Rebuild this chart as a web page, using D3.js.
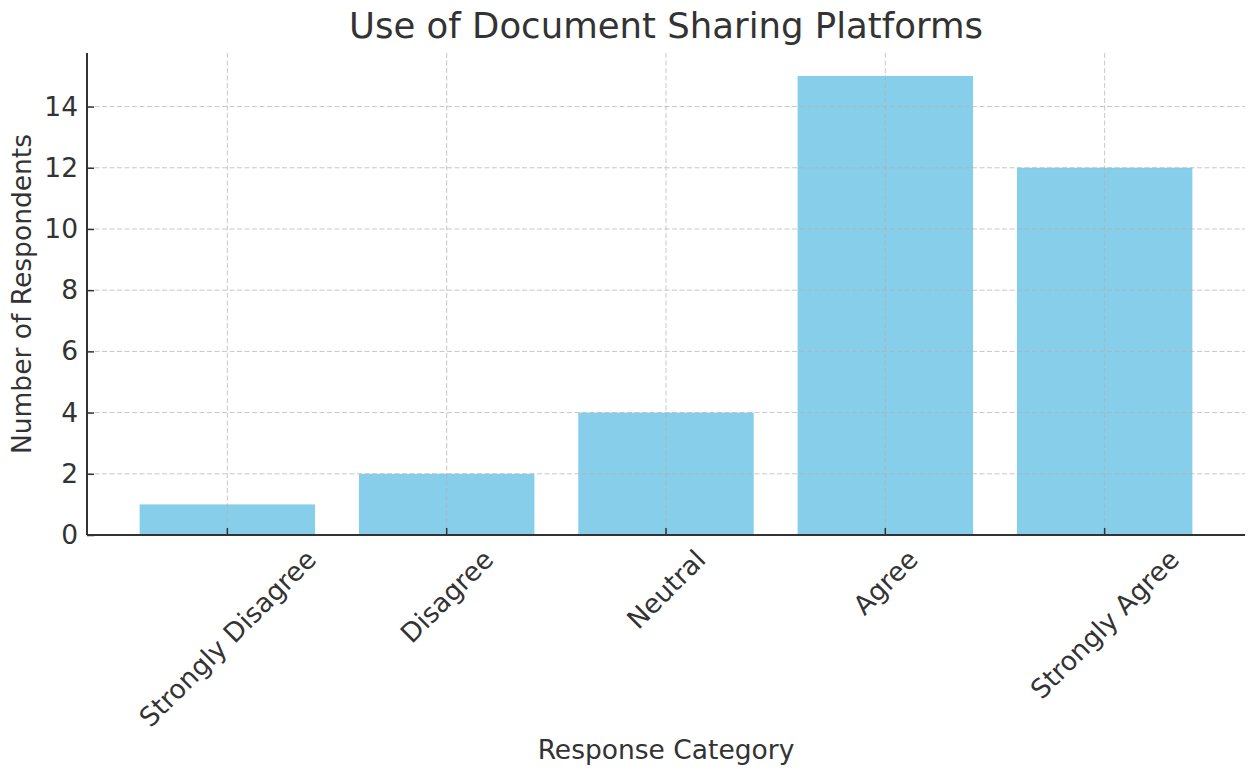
<!DOCTYPE html>
<meta charset="utf-8">
<style>
  body { margin: 0; background: #fff; }
  text { font-family: "DejaVu Sans", sans-serif; fill: #333; }
  .grid line { stroke: #b0b0b0; stroke-opacity: 0.7; stroke-dasharray: 5,2.5; stroke-width: 1px; }
</style>
<body>
<script src="https://d3js.org/d3.v7.min.js"></script>
<script>
  // chart data
  var categories = ["Strongly Disagree", "Disagree", "Neutral", "Agree", "Strongly Agree"];
  var respondents = [1, 2, 4, 15, 12];
  var yTicks = [0, 2, 4, 6, 8, 10, 12, 14];

  var width = 1248, height = 771;
  var margin = { top: 53, right: 3, bottom: 236, left: 87 };

  var svg = d3.select("body").append("svg")
    .attr("width", width)
    .attr("height", height);

  var x = d3.scaleBand()
    .domain(categories)
    .range([margin.left, width - margin.right])
    .paddingInner(0.2)
    .paddingOuter(0.24);

  var y = d3.scaleLinear()
    .domain([0, 15.75])
    .range([height - margin.bottom, margin.top]);

  // bars
  svg.selectAll(".bar")
    .data(categories)
    .enter()
    .append("rect")
    .attr("class", "bar")
    .attr("x", function (d) { return x(d); })
    .attr("width", x.bandwidth())
    .attr("y", function (d, i) { return y(respondents[i]); })
    .attr("height", function (d, i) { return y(0) - y(respondents[i]); })
    .style("fill", "#87CEEB");

  // grid on top of bars
  var grid = svg.append("g").attr("class", "grid");
  grid.selectAll(".hg")
    .data(yTicks)
    .enter()
    .append("line")
    .attr("x1", margin.left).attr("x2", width - margin.right)
    .attr("y1", function (d) { return y(d); })
    .attr("y2", function (d) { return y(d); });
  grid.selectAll(".vg")
    .data(categories)
    .enter()
    .append("line")
    .attr("x1", function (d) { return x(d) + x.bandwidth() / 2; })
    .attr("x2", function (d) { return x(d) + x.bandwidth() / 2; })
    .attr("y1", margin.top).attr("y2", y(0));

  // y axis
  var yAxis = svg.append("g")
    .attr("transform", "translate(" + margin.left + ",0)")
    .call(d3.axisLeft(y).tickValues(yTicks).tickSize(-7).tickPadding(9));
  yAxis.select(".domain").remove();
  yAxis.selectAll(".tick line").attr("stroke", "#333").attr("stroke-width", 1.5);
  yAxis.selectAll(".tick text").style("font-size", "26.5px").attr("fill", "#333")
    .attr("font-family", null);
  yAxis.append("line")
    .attr("x1", 0).attr("x2", 0)
    .attr("y1", margin.top).attr("y2", y(0))
    .attr("stroke", "#333").attr("stroke-width", 2);

  // x axis
  var xAxis = svg.append("g")
    .attr("transform", "translate(0," + y(0) + ")")
    .call(d3.axisBottom(x).tickSize(-7).tickSizeOuter(0));
  xAxis.select(".domain").remove();
  xAxis.selectAll(".tick line").attr("stroke", "#333").attr("stroke-width", 1.5);
  xAxis.append("line")
    .attr("x1", margin.left).attr("x2", width - margin.right)
    .attr("y1", 0).attr("y2", 0)
    .attr("stroke", "#333").attr("stroke-width", 2);

  // rotated labels, centered on tick like matplotlib ha=center
  xAxis.selectAll(".tick text")
    .style("font-size", "26.5px")
    .attr("fill", "#333")
    .attr("font-family", null)
    .attr("text-anchor", "middle")
    .attr("dy", null)
    .attr("dominant-baseline", "central")
    .each(function () {
      var L = this.getComputedTextLength();
      var h = 30;
      var off = 9 + (L + h) * Math.SQRT1_2 / 2;
      d3.select(this)
        .attr("y", 0)
        .attr("transform", "translate(0," + off + ") rotate(-45)");
    });

  // title
  svg.append("text")
    .attr("x", (margin.left + width - margin.right) / 2)
    .attr("y", 38)
    .attr("text-anchor", "middle")
    .style("font-size", "35.5px")
    .text("Use of Document Sharing Platforms");

  // axis labels
  svg.append("text")
    .attr("x", (margin.left + width - margin.right) / 2)
    .attr("y", 759)
    .attr("text-anchor", "middle")
    .style("font-size", "26.5px")
    .text("Response Category");

  svg.append("text")
    .attr("transform", "translate(31," + (margin.top + y(0)) / 2 + ") rotate(-90)")
    .attr("text-anchor", "middle")
    .style("font-size", "26.5px")
    .text("Number of Respondents");
</script>
</body>
